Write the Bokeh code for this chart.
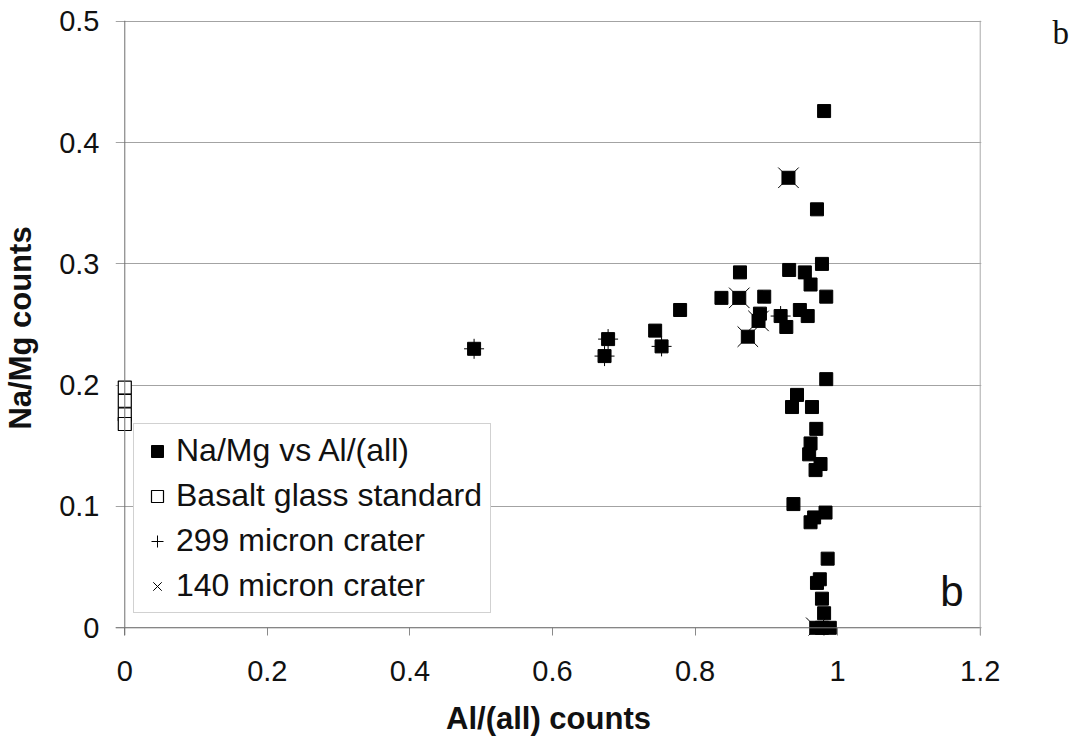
from bokeh.plotting import figure
from bokeh.models import (Range1d, FixedTicker, Span, Label, Legend, LegendItem,
                          LinearAxis)
from bokeh.embed import file_html
from bokeh.resources import INLINE

# ---- data ----
al_all = [0.490, 0.673, 0.678, 0.744, 0.753, 0.779, 0.837, 0.862, 0.863, 0.874,
          0.889, 0.891, 0.897, 0.920, 0.928, 0.931, 0.932, 0.947, 0.954, 0.958,
          0.962, 0.971, 0.978, 0.984, 0.981, 0.984, 0.943, 0.936, 0.964, 0.970,
          0.962, 0.960, 0.976, 0.969, 0.938, 0.983, 0.967, 0.962, 0.986, 0.975,
          0.971, 0.978, 0.981, 0.970, 0.978, 0.989]
na_mg = [0.230, 0.224, 0.238, 0.245, 0.232, 0.262, 0.272, 0.272, 0.293, 0.240,
         0.253, 0.259, 0.273, 0.257, 0.248, 0.371, 0.295, 0.262, 0.293, 0.257,
         0.283, 0.345, 0.300, 0.273, 0.426, 0.205, 0.192, 0.182, 0.182, 0.164,
         0.152, 0.143, 0.135, 0.130, 0.102, 0.095, 0.091, 0.087, 0.057, 0.040,
         0.037, 0.024, 0.012, 0.000, 0.000, 0.000]

basalt_x = [0.0, 0.0, 0.0, 0.0]
basalt_y = [0.198, 0.187, 0.176, 0.168]

crater299_x = [0.490, 0.673, 0.678, 0.753, 0.920]
crater299_y = [0.230, 0.224, 0.238, 0.232, 0.257]

crater140_x = [0.931, 0.862, 0.874, 0.889, 0.970]
crater140_y = [0.371, 0.272, 0.240, 0.253, 0.000]

x_ticks = [0, 0.2, 0.4, 0.6, 0.8, 1.0, 1.2]
x_tick_labels = ["0", "0.2", "0.4", "0.6", "0.8", "1", "1.2"]
y_ticks = [0, 0.1, 0.2, 0.3, 0.4, 0.5]
y_tick_labels = ["0", "0.1", "0.2", "0.3", "0.4", "0.5"]

series_names = ["Na/Mg vs Al/(all)", "Basalt glass standard",
                "299 micron crater", "140 micron crater"]
x_title = "Al/(all) counts"
y_title = "Na/Mg counts"
panel_letter = "b"

FONT = "Liberation Sans"
LETTER_Y = 0.4903   # vertical position of the page letter (right margin)

p = figure(width=1072, height=740,
           x_range=Range1d(-0.01303, 1.2018),
           y_range=Range1d(-0.00635, 0.50066),
           output_backend="svg", toolbar_location=None,
           min_border_left=115, min_border_right=90,
           min_border_top=20, min_border_bottom=105)
p.outline_line_color = None
p.background_fill_color = "white"
p.border_fill_color = "white"

# grid
p.xgrid.grid_line_color = None
p.ygrid.ticker = FixedTicker(ticks=y_ticks)
p.ygrid.grid_line_color = "#a3a3a3"
p.ygrid.grid_line_width = 1

# x axis
xa = p.xaxis[0]
xa.ticker = FixedTicker(ticks=x_ticks)
xa.major_label_overrides = dict(zip(x_ticks, x_tick_labels))
xa.axis_line_color = None
xa.major_tick_in = 8
xa.major_tick_out = 0
xa.major_tick_line_color = "#8a8a8a"
xa.minor_tick_line_color = None
xa.major_label_standoff = 25
xa.major_label_text_font = FONT
xa.major_label_text_font_size = "29px"
xa.major_label_text_color = "#111111"
xa.axis_label = x_title
xa.axis_label_text_font = FONT
xa.axis_label_text_font_size = "31px"
xa.axis_label_text_font_style = "bold"
xa.axis_label_text_color = "#111111"
xa.axis_label_standoff = 17

# y axis
ya = p.yaxis[0]
ya.ticker = FixedTicker(ticks=y_ticks)
ya.major_label_overrides = dict(zip(y_ticks, y_tick_labels))
ya.axis_line_color = None
ya.major_tick_in = 0
ya.major_tick_out = 0
ya.minor_tick_line_color = None
ya.major_label_standoff = 16
ya.major_label_text_font = FONT
ya.major_label_text_font_size = "29px"
ya.major_label_text_color = "#111111"
ya.axis_label = y_title
ya.axis_label_text_font = FONT
ya.axis_label_text_font_size = "31px"
ya.axis_label_text_font_style = "bold"
ya.axis_label_text_color = "#111111"
ya.axis_label_standoff = 18

# right-hand axis that only carries the page letter "b"
ra = LinearAxis(ticker=FixedTicker(ticks=[LETTER_Y]),
                major_label_overrides={LETTER_Y: panel_letter})
ra.axis_line_color = None
ra.major_tick_line_color = None
ra.minor_tick_line_color = None
ra.major_tick_in = 0
ra.major_tick_out = 0
ra.major_label_standoff = 71
ra.major_label_text_font = "Liberation Serif"
ra.major_label_text_font_size = "33px"
ra.major_label_text_color = "#111111"
p.add_layout(ra, "right")

# axis lines and border
p.add_layout(Span(location=x_ticks[0], dimension="height", line_color="#6e6e6e", line_width=1))
p.add_layout(Span(location=y_ticks[0], dimension="width", line_color="#7a7a7a", line_width=1))
p.add_layout(Span(location=x_ticks[-1], dimension="height", line_color="#ababab", line_width=1))

# data
r_main = p.scatter(al_all, na_mg, marker="square", size=13,
                   fill_color="black", line_color="black")
r_basalt = p.scatter(basalt_x, basalt_y, marker="square", size=13,
                     fill_color="white", line_color="black", line_width=1.2)
r_299 = p.scatter(crater299_x, crater299_y, marker="cross", size=20,
                  line_color="black", line_width=1)
r_140 = p.scatter(crater140_x, crater140_y, marker="x", size=29,
                  line_color="black", line_width=1)

legend = Legend(items=[LegendItem(label=series_names[0], renderers=[r_main]),
                       LegendItem(label=series_names[1], renderers=[r_basalt]),
                       LegendItem(label=series_names[2], renderers=[r_299]),
                       LegendItem(label=series_names[3], renderers=[r_140])],
                location=(18, 22))
legend.label_text_font = FONT
legend.label_text_font_size = "32px"
legend.label_text_color = "#111111"
legend.glyph_width = 30
legend.glyph_height = 30
legend.label_height = 30
legend.label_standoff = 4
legend.spacing = 8
legend.padding = 8
legend.margin = 0
legend.border_line_color = "#a3a3a3"
legend.border_line_width = 1
legend.background_fill_color = "white"
legend.background_fill_alpha = 1.0
p.add_layout(legend)

# panel letter inside the plot
p.add_layout(Label(x=1.144, y=0.0497, text=panel_letter, text_font=FONT,
                   text_font_size="42px", text_color="#111111",
                   text_baseline="top"))

open("out.html", "w").write(file_html(p, INLINE))
